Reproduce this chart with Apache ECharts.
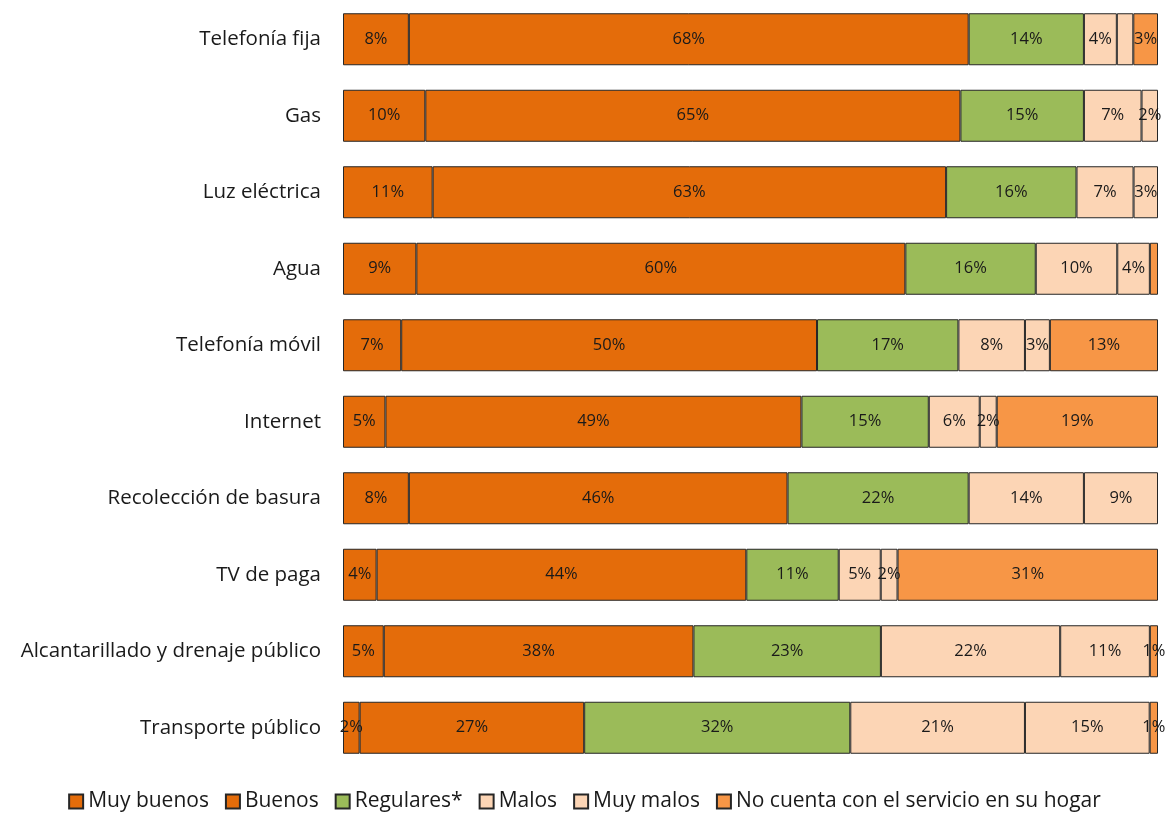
<!DOCTYPE html>
<html>
<head>
<meta charset="utf-8">
<script src="https://cdn.jsdelivr.net/npm/echarts@6/dist/echarts.min.js"></script>
<style>
  html, body { margin: 0; padding: 0; background: #fff; }
  #chart { width: 1169px; height: 813px; }
</style>
</head>
<body>
<div id="chart"></div>
<script>
const categories = ['Telefonía fija', 'Gas', 'Luz eléctrica', 'Agua', 'Telefonía móvil', 'Internet',
  'Recolección de basura', 'TV de paga', 'Alcantarillado y drenaje público', 'Transporte público'];

const seriesNames = ['Muy buenos', 'Buenos', 'Regulares*', 'Malos', 'Muy malos', 'No cuenta con el servicio en su hogar'];

// percentages as printed on the bars (0 = segment not present)
const muyBuenos = [8, 10, 11, 9, 7, 5, 8, 4, 5, 2];
const buenos    = [68, 65, 63, 60, 50, 49, 46, 44, 38, 27];
const regulares = [14, 15, 16, 16, 17, 15, 22, 11, 23, 32];
const malos     = [4, 7, 7, 10, 8, 6, 14, 5, 22, 21];
const muyMalos  = [2, 2, 3, 4, 3, 2, 9, 2, 11, 15];
const noCuenta  = [3, 0, 0, 1, 13, 19, 0, 31, 1, 1];

// segments drawn without a label: [row, series]
const unlabeled = [[0, 4], [3, 5]];

const colors = ['#E46C0A', '#E46C0A', '#9BBB59', '#FCD5B5', '#FCD5B5', '#F79646'];

const allValues = [muyBuenos, buenos, regulares, malos, muyMalos, noCuenta];
const rowTotals = categories.map((c, i) => allValues.reduce((s, arr) => s + arr[i], 0));

const chart = echarts.init(document.getElementById('chart'));

const series = allValues.map((arr, si) => ({
  name: seriesNames[si],
  type: 'bar',
  stack: 'total',
  barWidth: 52,
  itemStyle: { color: colors[si], borderColor: '#262626', borderWidth: 1 },
  label: {
    show: true,
    position: 'inside',
    color: '#1a1a1a',
    fontSize: 16.5,
    fontFamily: 'Open Sans',
    formatter: p => p.data.raw + '%'
  },
  data: arr.map((v, i) => {
    const hide = v === 0 || unlabeled.some(u => u[0] === i && u[1] === si);
    return {
      value: v === 0 ? null : v / rowTotals[i] * 100,
      raw: v,
      label: { show: !hide }
    };
  })
}));

const option = {
  animation: false,
  textStyle: { fontFamily: 'Open Sans' },
  grid: { left: 343, right: 11, top: 1, bottom: 47 },
  xAxis: { type: 'value', min: 0, max: 100, show: false },
  yAxis: {
    type: 'category',
    inverse: true,
    data: categories,
    axisLine: { show: false },
    axisTick: { show: false },
    axisLabel: { color: '#1a1a1a', fontSize: 20.5, margin: 22, fontFamily: 'Open Sans' }
  },
  legend: {
    bottom: -4,
    left: 'center',
    icon: 'rect',
    itemWidth: 14,
    itemHeight: 14,
    itemGap: 16,
    textStyle: { fontSize: 21, color: '#1a1a1a', fontFamily: 'Open Sans' },
    data: seriesNames
  },
  series: series
};

chart.setOption(option);
</script>
</body>
</html>
